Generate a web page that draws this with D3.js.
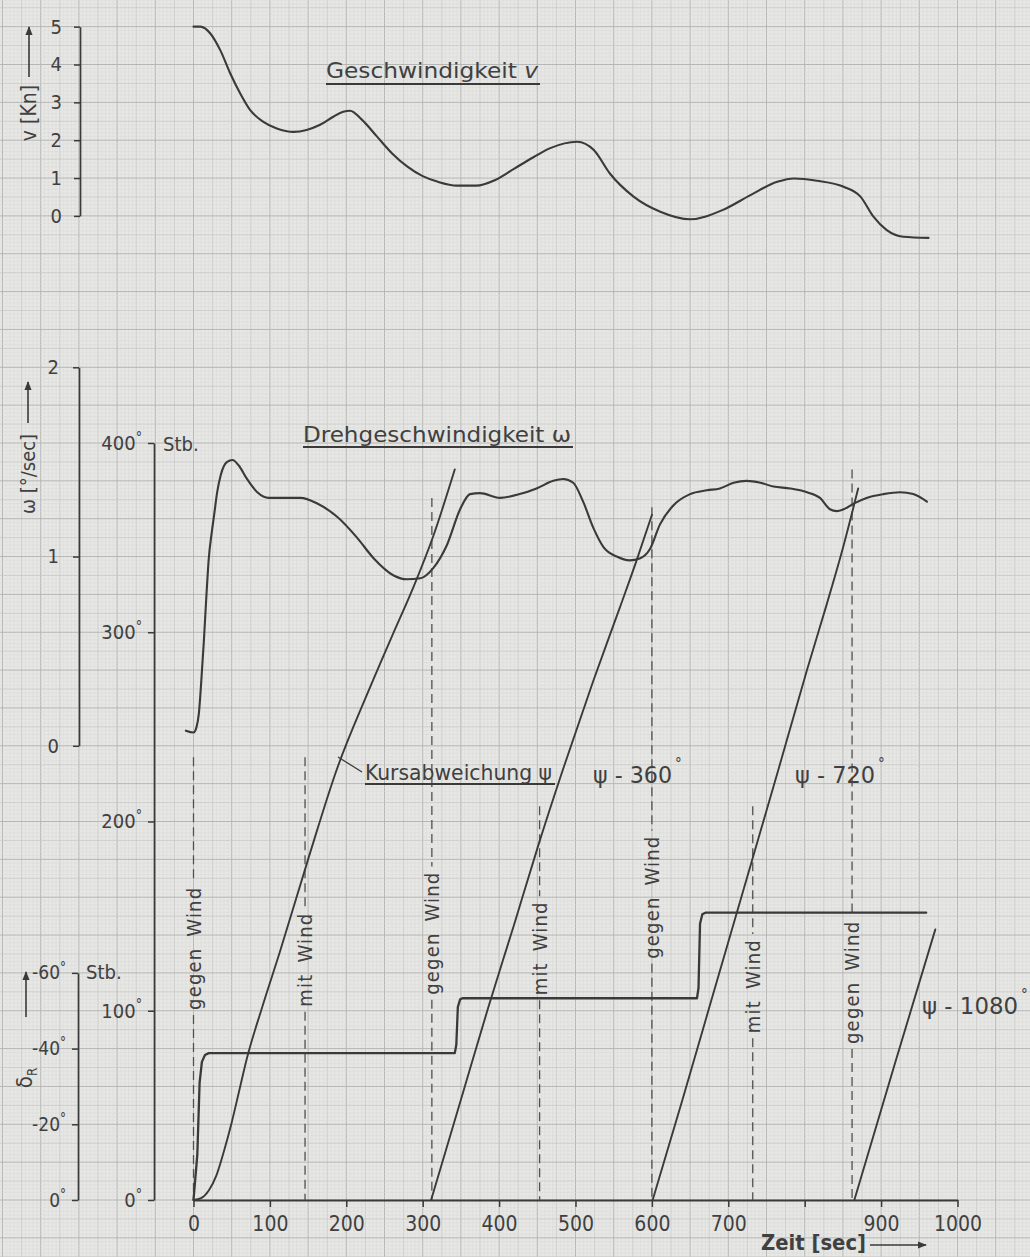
<!DOCTYPE html>
<html><head><meta charset="utf-8">
<script src="https://cdn.jsdelivr.net/npm/d3@7"></script>
<style>
html,body{margin:0;padding:0;background:#e6e6e4;}
svg{display:block;}
text{font-family:"DejaVu Sans Condensed","DejaVu Sans",sans-serif;fill:#404040;}
</style></head><body>
<svg id="c" width="1030" height="1257"></svg>
<script>
// ---------- data ----------
const timeTicks = [0,100,200,300,400,500,600,700,900,1000];
const speedTicks = [0,1,2,3,4,5];
const omegaTicks = [0,1,2];
const psiTicks = [0,100,200,300,400];
const deltaTicks = [0,-20,-40,-60];

// Geschwindigkeit v [Kn] over time [sec]
const speed = [[0,5.0],[9,5.0],[22,4.82],[35,4.38],[48,3.77],[61,3.24],[74,2.8],[91,2.49],[109,2.31],[131,2.22],[148,2.27],[165,2.4],[183,2.62],[196,2.75],[205,2.78],[220,2.55],[240,2.1],[260,1.65],[280,1.3],[300,1.05],[320,0.9],[345,0.8],[370,0.8],[395,0.95],[420,1.25],[445,1.55],[467,1.79],[502,1.96],[524,1.74],[545,1.12],[576,0.51],[611,0.11],[650,-0.09],[693,0.16],[729,0.55],[764,0.9],[786,0.99],[816,0.93],[851,0.77],[873,0.51],[890,-0.02],[907,-0.37],[929,-0.55],[962,-0.58]];

// Drehgeschwindigkeit ω [°/sec]
const omega = [[-10,0.08],[0,0.07],[4,0.1],[7,0.17],[10,0.33],[13.5,0.55],[17,0.8],[20,0.99],[24,1.13],[27,1.22],[31,1.34],[35.6,1.43],[40,1.48],[44,1.5],[51,1.51],[59.5,1.48],[70,1.41],[83.5,1.34],[98.6,1.31],[114,1.31],[140,1.31],[162,1.28],[188,1.21],[214,1.1],[236,0.99],[262,0.9],[279,0.88],[297,0.885],[314,0.94],[331.6,1.06],[349,1.25],[362,1.33],[375,1.335],[401,1.31],[427,1.33],[449,1.36],[471,1.4],[484,1.41],[497,1.39],[510,1.29],[523.5,1.15],[536.6,1.05],[554,1.0],[571,0.98],[584,0.99],[597.5,1.04],[610.6,1.17],[628,1.27],[650,1.33],[672,1.35],[689,1.36],[707,1.39],[724,1.4],[742,1.39],[759,1.37],[781,1.36],[803,1.34],[820,1.31],[833,1.25],[842,1.24],[851,1.25],[864,1.28],[881,1.31],[903,1.33],[925,1.34],[942,1.33],[960,1.29]];

// Kursabweichung ψ [°], and the branches ψ-360°, ψ-720°, ψ-1080°
const psi0 = [[0,0],[10,1],[20,5],[30,13],[40,26],[50,41],[60,58],[70,75],[90,102],[113,131],[150,180],[188,228],[227,267],[261,299],[288,324],[314,351],[342,386]];
const psi360 = [[311,0],[350,53],[386,102],[420,146],[451,187],[484,228],[523,274],[558,313],[580,338],[600,362]];
const psi720 = [[601,0],[640,53],[676,103],[712,153],[766,228],[803,280],[829,315],[851,346],[870,376]];
const psi1080 = [[865,0],[918,72],[971,143]];

// Ruderwinkel δR [°]
const rudder = [[0,0],[5,-12],[8,-31],[11,-36.5],[15,-38.3],[20,-38.8],[342,-38.8],[344,-41],[346,-51],[349,-53],[352,-53.3],[659,-53.3],[661,-56],[663,-73],[666,-75.5],[670,-75.9],[959,-75.9]];

// wind markers: time [sec], label, top of dashed line [ψ°], label centre [ψ°]
const windTime  = [0,146,312,453,600,732,862];
const windLabel = ["gegen Wind","mit Wind","gegen Wind","mit Wind","gegen Wind","mit Wind","gegen Wind"];
const windTop   = [234,234,371,208,366,208,386];
const windMid   = [133,127,141,133,160,113,115];

// ---------- drawing ----------
const svg = d3.select("#c");
const W = 1030, H = 1257;
const ink = "#3a3a3a";

// scales
const x = d3.scaleLinear([0,1000],[193.5,957.5]);
const yV = d3.scaleLinear([0,5],[215.9,26.65]);
const yW = d3.scaleLinear([0,2],[745.8,367.3]);
const yP = d3.scaleLinear([0,400],[1200,443]);
const yD = d3.scaleLinear([0,-60],[1200,972.9]);

// graph paper
const paper = svg.append("g");
paper.append("rect").attr("width",W).attr("height",H).attr("fill","#e7e7e5");
const cx = 38.2, cy = 37.85, ox = 193.5, oy = 1200;
const vx = d3.range(Math.floor(-ox/cx*10), Math.ceil((W-ox)/cx*10)+1);
const hy = d3.range(Math.floor(-(H-oy)/cy*10), Math.ceil(oy/cy*10)+1);
function gstyle(i){ return i%10===0 ? ["#b6b6b4",1.0] : (i%5===0 ? ["#c8c8c6",0.8] : ["#d8d8d6",0.5]); }
paper.selectAll("line.v").data(vx).join("line")
  .attr("x1",i=>ox+i*cx/10).attr("x2",i=>ox+i*cx/10).attr("y1",0).attr("y2",H)
  .attr("stroke",i=>gstyle(i)[0]).attr("stroke-width",i=>gstyle(i)[1]);
paper.selectAll("line.h").data(hy).join("line")
  .attr("y1",i=>oy-i*cy/10).attr("y2",i=>oy-i*cy/10).attr("x1",0).attr("x2",W)
  .attr("stroke",i=>gstyle(i)[0]).attr("stroke-width",i=>gstyle(i)[1]);

// arrow marker
svg.append("defs").append("marker").attr("id","ah").attr("viewBox","0 0 10 10")
  .attr("refX",9).attr("refY",5).attr("markerWidth",9).attr("markerHeight",9)
  .attr("markerUnits","userSpaceOnUse").attr("orient","auto")
  .append("path").attr("d","M0,1 L10,5 L0,9 Z").attr("fill",ink);

function styleAxis(g, fs){
  g.select(".domain").attr("stroke",ink).attr("stroke-width",1.7);
  g.selectAll(".tick line").attr("stroke",ink).attr("stroke-width",1.5);
  g.selectAll(".tick text").attr("font-size",fs).attr("fill","#404040")
   .style("font-family",'"DejaVu Sans Condensed","DejaVu Sans",sans-serif');
}
function degree(g){
  g.selectAll(".tick text").each(function(d){
    const t = d3.select(this); t.text(String(d));
    t.append("tspan").attr("dy","-0.6em").attr("font-size","0.7em").text("°");
  });
}

// v axis
const gV = svg.append("g").attr("transform","translate(80,0)")
  .call(d3.axisLeft(yV).tickValues(speedTicks).tickFormat(d=>String(d)).tickSize(6).tickSizeOuter(0).tickPadding(12));
styleAxis(gV,20);
// ω axis
const gW = svg.append("g").attr("transform","translate(79,0)")
  .call(d3.axisLeft(yW).tickValues(omegaTicks).tickFormat(d=>String(d)).tickSize(6).tickSizeOuter(0).tickPadding(14));
styleAxis(gW,20);
// ψ axis
const gP = svg.append("g").attr("transform","translate(154,0)")
  .call(d3.axisLeft(yP).tickValues(psiTicks).tickSize(6).tickSizeOuter(0).tickPadding(6));
styleAxis(gP,20); degree(gP);
// δ axis
const gD = svg.append("g").attr("transform","translate(78,0)")
  .call(d3.axisLeft(yD).tickValues(deltaTicks).tickSize(6).tickSizeOuter(0).tickPadding(6));
styleAxis(gD,19); degree(gD);
// time axis
const gX = svg.append("g").attr("transform","translate(0,1200)")
  .call(d3.axisBottom(x).tickValues(timeTicks.concat([800])).tickSize(7).tickSizeOuter(0).tickPadding(9)
  .tickFormat(d=> timeTicks.includes(d) ? String(d) : ""));
styleAxis(gX,21);
gX.select(".domain").attr("stroke-width",2.2);

// wind markers
const wind = svg.append("g");
windTime.forEach((t,i)=>{
  const xx = x(t);
  const cyMid = yP(windMid[i]);
  const lbl = wind.append("text").attr("transform",`translate(${xx+7},${cyMid}) rotate(-90)`)
    .attr("text-anchor","middle").attr("font-size",20).attr("fill","#4a4a4a")
    .attr("letter-spacing","1.2").attr("word-spacing","4").text(windLabel[i]);
  const half = lbl.node().getComputedTextLength()/2 + 5;
  const segs = [[yP(windTop[i]), cyMid-half],[cyMid+half, 1200]];
  segs.forEach(s=>{
    wind.append("line").attr("x1",xx).attr("x2",xx).attr("y1",s[0]).attr("y2",s[1])
      .attr("stroke","#505050").attr("stroke-width",1.3).attr("stroke-dasharray","9,5");
  });
});

// curves
const smooth = (ys)=> d3.line().x(d=>x(d[0])).y(d=>ys(d[1])).curve(d3.curveMonotoneX);
const drawPath = (data, gen, w)=> svg.append("path").datum(data).attr("d",gen)
  .attr("fill","none").attr("stroke",ink).attr("stroke-width",w).attr("stroke-linejoin","round").attr("stroke-linecap","round");
drawPath(speed, smooth(yV), 2.1);
drawPath(omega, smooth(yW), 2.1);
[psi0,psi360,psi720,psi1080].forEach(p=>drawPath(p, smooth(yP), 1.9));
drawPath(rudder, d3.line().x(d=>x(d[0])).y(d=>yD(d[1])), 2.3);

// titles and labels
function label(txt, xx, yy, fs, len, opts={}){
  const t = svg.append("text").attr("x",xx).attr("y",yy).attr("font-size",fs);
  if(len) t.attr("textLength",len).attr("lengthAdjust","spacingAndGlyphs");
  if(opts.weight) t.attr("font-weight",opts.weight);
  t.text(txt);
  return t;
}
function underline(x1,x2,yy){
  svg.append("line").attr("x1",x1).attr("x2",x2).attr("y1",yy).attr("y2",yy)
    .attr("stroke",ink).attr("stroke-width",2);
}
// Geschwindigkeit v
const t1 = label("Geschwindigkeit ",326,78,22,null);
t1.append("tspan").attr("font-style","italic").text("v");
t1.attr("textLength",212).attr("lengthAdjust","spacingAndGlyphs");
underline(326,540,84);
// Drehgeschwindigkeit ω
label("Drehgeschwindigkeit ω",303,442,22,268);
underline(303,573,447);
// Kursabweichung ψ
label("Kursabweichung ψ",365,780,22,187);
underline(365,555,784);
svg.append("line").attr("x1",338).attr("y1",757).attr("x2",362).attr("y2",772)
  .attr("stroke",ink).attr("stroke-width",1.3);
// branch labels
function branch(txt, xx, yy, len){
  const t = label(txt, xx, yy, 23, len);
  svg.append("text").attr("x",xx+len+3).attr("y",yy-14).attr("font-size",15).text("°");
}
branch("ψ - 360",593,783,79);
branch("ψ - 720",795,783,80);
branch("ψ - 1080",922,1014,96);

// Stb. labels
label("Stb.",163,451,20,null);
label("Stb.",86,979,20,null);

// axis titles (rotated)
function vlabel(txt, xx, yy, fs){
  return svg.append("text").attr("transform",`translate(${xx},${yy}) rotate(-90)`)
    .attr("text-anchor","middle").attr("font-size",fs).text(txt);
}
vlabel("v [Kn]",36,113,21);
vlabel("ω [°/sec]",35,474,20);
const dl = svg.append("text").attr("transform","translate(32,1078) rotate(-90)")
  .attr("text-anchor","middle").attr("font-size",22).text("δ");
dl.append("tspan").attr("dy","0.35em").attr("font-size","0.6em").text("R");
function arrow(x1,y1,x2,y2){
  svg.append("line").attr("x1",x1).attr("y1",y1).attr("x2",x2).attr("y2",y2)
    .attr("stroke",ink).attr("stroke-width",1.6).attr("marker-end","url(#ah)");
}
arrow(29,77,29,27);
arrow(28,423,28,382);
arrow(26,1017,26,972);

// Zeit [sec]
label("Zeit [sec]",761,1250,22,105,{weight:"bold"});
arrow(870,1245,926,1245);
</script>
</body></html>
